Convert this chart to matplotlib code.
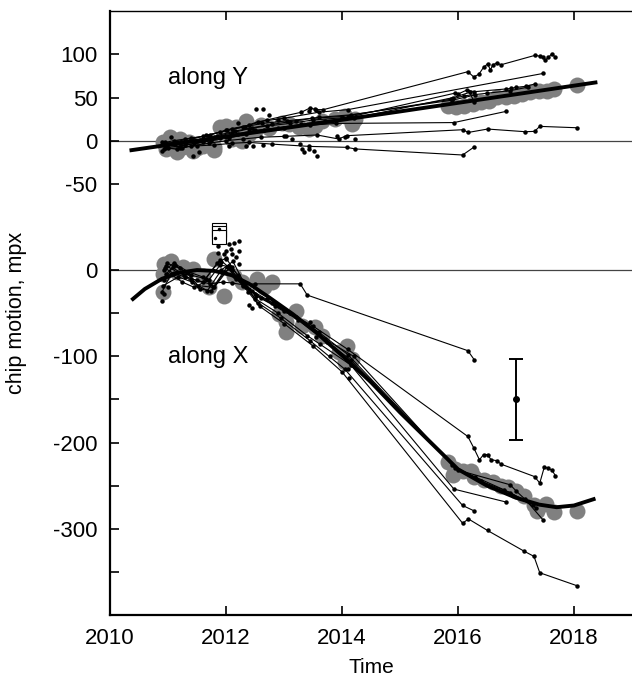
import numpy as np
import matplotlib
matplotlib.use("Agg")
import matplotlib.pyplot as plt

plt.rcParams['font.family'] = ['Liberation Sans', 'DejaVu Sans']

# upper panel (along Y) is drawn shifted up by this many mpx
Y_SHIFT = 150

# ---------------- along Y ----------------
y_fit_t = [2010.37, 2014.97, 2018.37]
y_fit_v = [-11, 33.6, 67.5]

y_grey_t = [2010.91, 2011.03, 2011.2, 2011.26, 2011.43, 2011.6, 2011.8, 2010.97, 2011.11, 2011.37,
            2011.89, 2012.0, 2012.17, 2012.34, 2012.11, 2012.28, 2012.4, 2012.51, 2012.97, 2013.08,
            2013.26, 2013.43, 2013.54, 2013.65, 2013.88, 2014.06, 2014.23, 2014.17, 2011.8,
            2011.15, 2011.5, 2012.6, 2012.75,
            2015.83, 2015.97, 2016.11, 2016.26, 2016.4, 2016.54, 2016.68, 2016.83, 2016.97, 2017.11,
            2017.25, 2017.4, 2017.54, 2017.66, 2018.05]
y_grey_v = [-2, 3.8, 2, -7.7, -11.6, -5.8, -7.7, -9.6, -7.7, -2,
            15.4, 17.4, 15.4, 23, 2, 0, 7.7, 13.5, 21, 19.3,
            15.4, 13.5, 17.4, 23, 25, 29, 25, 19.3, -10.4,
            -13, -9, 18, 15,
            40.5, 38.6, 40.5, 42.5, 44.4, 46.3, 50.2, 50.2, 52.1, 54.1,
            56, 58, 58, 60, 65]

y_tracks_t = [
    [2010.95, 2011.1, 2011.3, 2011.6, 2011.9, 2012.1, 2012.4, 2012.7, 2013.3, 2013.45, 2013.55, 2013.68,
     2016.17, 2016.27, 2016.36, 2016.44, 2016.51, 2016.56, 2016.6, 2016.67, 2016.74,
     2017.33, 2017.41, 2017.46, 2017.5, 2017.56, 2017.62, 2017.68],
    [2010.95, 2011.15, 2011.4, 2011.7, 2012.0, 2012.3, 2012.55, 2013.0, 2013.6, 2014.1, 2017.47],
    [2010.98, 2011.2, 2011.5, 2011.8, 2012.1, 2012.4, 2012.7, 2013.1, 2013.5, 2014.1,
     2015.94, 2016.0, 2016.15, 2016.28, 2016.83, 2016.91, 2017.0, 2017.17, 2017.32],
    [2011.0, 2011.3, 2011.6, 2011.9, 2012.2, 2012.5, 2012.9, 2013.3, 2013.7, 2014.2, 2015.92, 2016.2, 2016.28],
    [2010.92, 2011.25, 2011.55, 2011.85, 2012.15, 2012.45, 2012.8, 2013.2, 2013.6, 2014.15, 2015.9, 2016.3],
    [2010.9, 2011.12, 2011.42, 2011.72, 2012.02, 2012.32, 2012.62, 2013.05, 2013.48, 2014.0,
     2015.88, 2016.1, 2016.5, 2016.9, 2017.2],
    [2010.97, 2011.2, 2011.45, 2011.75, 2012.05, 2012.35, 2012.65, 2013.0, 2013.45, 2013.9, 2015.93, 2016.83],
    [2010.95, 2011.15, 2011.4, 2011.7, 2012.0, 2012.3, 2012.6, 2013.0, 2013.57, 2013.94, 2014.08,
     2016.08, 2016.18, 2016.51, 2017.16, 2017.32, 2017.41, 2018.05],
    [2010.93, 2011.2, 2011.5, 2011.8, 2012.1, 2012.4, 2012.8, 2013.43, 2014.08, 2014.23, 2016.08, 2016.27],
]
y_tracks_v = [
    [-2, 0, 2, 5, 10, 14, 18, 24, 33, 38, 36, 36,
     80, 74, 77, 85, 89, 82, 88, 90, 88,
     99, 98, 97, 93, 96.5, 101, 96.5],
    [-4, -1, 3, 6, 12, 16, 22, 26, 33, 36, 78],
    [-6, -3, 0, 4, 9, 14, 17, 20, 24, 27, 55, 54, 58.7, 56.8, 60, 60.6, 61.8, 63, 65.7],
    [-8, -5, -2, 3, 8, 12, 15, 19, 23, 26, 50, 56, 45],
    [-3, -2, 1, 6, 11, 15, 19, 23, 27, 30, 47, 53],
    [-1, -4, 2, 7, 12, 16, 20, 23, 26, 28, 48, 52, 55, 58, 62],
    [-5, -7, -3, 0, 3, 8, 12, 15, 18, 20, 21, 34],
    [-8, -10, -6, -3, 0, 2, 4, 5, 6.6, 2, 5.8, 12.7, 9.6, 13.5, 10.4, 10.8, 16.6, 15],
    [-10, -8, -6, -5, -3, -2, -4, -6.6, -7.7, -9.6, -16.6, -7.7],
]

y_dots_t = [2013.28, 2013.31, 2013.34, 2013.43, 2013.51, 2013.57, 2013.03, 2013.14, 2012.51, 2012.63,
            2013.43, 2013.54, 2012.34, 2012.46, 2012.63, 2012.06, 2011.43, 2011.54, 2010.89, 2013.91,
            2014.06, 2014.23, 2011.05, 2011.25, 2011.65, 2012.2, 2012.75, 2012.9]
y_dots_v = [-3.9, -9.6, -13.5, -9.6, -11.6, -17.4, 5.8, 2, 36.7, 36.7,
            34.8, 36.7, -5.8, -5.8, -5, -5.8, -17.4, -13.5, -11.6, 5.8,
            3.8, 2, 4, -9, 7, 20, 30, 24]

# ---------------- along X ----------------
x_fit_t = [2010.37, 2010.6, 2010.9, 2011.2, 2011.5, 2011.8, 2012.1, 2012.4, 2012.75, 2013.15, 2013.55,
           2014.0, 2014.5, 2015.0, 2015.5, 2016.0, 2016.5, 2017.0, 2017.4, 2017.7, 2018.0, 2018.37]
x_fit_v = [-35, -22, -10, -3, 0, -1, -6, -16, -32, -51, -72,
           -99, -130, -165, -198, -231, -250, -264, -272, -275, -273, -265]

x_grey_t = [2010.94, 2011.06, 2010.91, 2010.91, 2011.26, 2011.43, 2011.6, 2011.8, 2011.97, 2012.14,
            2012.28, 2012.54, 2012.65, 2012.8, 2012.91, 2013.2, 2013.03, 2013.03, 2013.31, 2013.54,
            2013.65, 2013.94, 2014.08, 2014.17, 2014.05, 2011.15, 2011.7,
            2015.83, 2015.94, 2015.91, 2016.08, 2016.23, 2016.28, 2016.45, 2016.6, 2016.74, 2016.86,
            2017.0, 2017.14, 2017.31, 2017.37, 2017.51, 2017.65, 2018.05]
x_grey_v = [7, 10.8, -4.6, -26, 3, 1, -6.6, 12.7, -30, -6.6,
            -14, -10.4, -20, -14.4, -51, -47, -60.7, -72, -64.5, -66.5,
            -76, -95.5, -87.7, -103, -107, -2, -20,
            -223, -230.6, -238, -232.6, -232.6, -240, -244, -246, -250, -252,
            -256, -261.5, -273, -279, -271, -281, -279]

x_tracks_t = [
    [2010.95, 2011.1, 2011.3, 2011.5, 2011.72, 2011.95, 2012.1, 2012.3, 2012.5, 2013.28, 2013.4, 2016.17, 2016.28],
    [2010.97, 2011.15, 2011.4, 2011.6, 2011.85, 2012.0, 2012.2, 2012.4, 2012.6, 2013.0, 2013.5, 2014.1,
     2016.17, 2016.27, 2016.37, 2016.44, 2016.51, 2016.57, 2016.67, 2016.74,
     2017.32, 2017.41, 2017.49, 2017.55, 2017.62, 2017.68],
    [2010.9, 2011.05, 2011.25, 2011.45, 2011.7, 2011.9, 2012.1, 2012.3, 2012.5, 2012.9, 2013.4, 2014.15,
     2015.93, 2016.83],
    [2010.93, 2011.08, 2011.28, 2011.55, 2011.75, 2011.98, 2012.15, 2012.35, 2012.55, 2012.95, 2013.45,
     2014.05, 2016.08, 2016.27],
    [2010.96, 2011.12, 2011.32, 2011.52, 2011.78, 2012.02, 2012.18, 2012.38, 2012.58, 2013.0, 2013.5,
     2014.0, 2016.08, 2016.18, 2016.51, 2017.14, 2017.31, 2017.41, 2018.05],
    [2010.94, 2011.1, 2011.35, 2011.6, 2011.8, 2012.05, 2012.25, 2012.45, 2012.7, 2013.1, 2013.6,
     2014.1, 2016.0, 2016.9, 2017.0, 2017.16, 2017.47],
    [2010.98, 2011.2, 2011.4, 2011.65, 2011.9, 2012.1, 2012.3, 2012.5, 2012.8, 2013.2, 2013.7,
     2014.2, 2015.95, 2016.3, 2016.8, 2017.3],
    [2010.92, 2011.18, 2011.42, 2011.68, 2011.92, 2012.12, 2012.32, 2012.52, 2012.85, 2013.25, 2013.75,
     2014.15, 2015.9, 2016.4, 2016.9, 2017.35],
]
x_tracks_v = [
    [2, -4, -8, -12, -16, -14, -15, -17, -16, -16, -29, -93.5, -104],
    [5, -2, -10, -14, 8, 14, -6, -22, -32, -47, -65, -92,
     -193, -206, -220, -214, -214, -220, -221, -225,
     -239.5, -247, -228, -230, -232, -238.5],
    [-25, -5, -14, -20, -12, 6, 3, -14, -33, -50, -76, -110, -254, -269],
    [-12, 3, -6, -22, -24, -2, -8, -20, -38, -56, -82, -115, -273, -279],
    [-5, 6, -3, -18, -20, 4, -10, -25, -42, -62, -88, -118, -293.6, -288.6, -302, -326, -332, -351, -366],
    [0, 8, -2, -8, -20, 2, -12, -24, -34, -50, -72, -98, -232, -249, -256, -266, -290],
    [8, 2, -6, -10, 12, 0, -18, -28, -38, -55, -80, -100, -230, -240, -255, -272],
    [-18, -8, -14, -24, 0, 10, -16, -30, -42, -58, -84, -104, -226, -245, -258, -276],
]

x_dots_t = [2012.06, 2012.13, 2012.22, 2012.0, 2012.08, 2012.17, 2012.0, 2011.86, 2012.06, 2012.23,
            2012.11, 2011.97, 2012.22, 2011.91, 2011.86, 2010.89, 2010.93, 2011.0, 2012.4, 2012.45,
            2013.45, 2013.55, 2013.62, 2013.8, 2014.1, 2014.12]
x_dots_v = [30, 31, 34, 22, 24, 14.6, 12.7, 20, 5, 7,
            18.5, 18.5, 22, 8.8, 28, -35.6, -28, -20, -40, -44,
            -60, -78, -86, -100, -115, -125]

# small stacked box symbol and error bar
box_t = [2011.885, 2011.885, 2011.885]
box_v = [47.0, 43.2, 38.2]
box_dot_t = [2011.885, 2011.81]
box_dot_v = [47.5, 36.6]
err_t, err_v, err_e = 2017.0, -150, 47

fig = plt.figure(figsize=(6.32, 6.78), dpi=100)
ax = fig.add_axes([0.174, 0.0929, 0.826, 0.8904])

ax.axhline(Y_SHIFT, color='#444444', lw=0.9, zorder=1)
ax.axhline(0, color='#444444', lw=0.9, zorder=1)

grey = '#808080'
ax.plot(y_grey_t, np.array(y_grey_v) + Y_SHIFT, 'o', color=grey, ms=11.5, mew=0, zorder=2)
ax.plot(x_grey_t, x_grey_v, 'o', color=grey, ms=11.5, mew=0, zorder=2)

for t, v in zip(y_tracks_t, y_tracks_v):
    ax.plot(t, np.array(v) + Y_SHIFT, '-o', color='black', lw=0.8, ms=2.2, zorder=3)
for t, v in zip(x_tracks_t, x_tracks_v):
    ax.plot(t, v, '-o', color='black', lw=0.8, ms=2.2, zorder=3)
ax.plot(y_dots_t, np.array(y_dots_v) + Y_SHIFT, 'o', color='black', ms=2.2, zorder=3)
ax.plot(x_dots_t, x_dots_v, 'o', color='black', ms=2.2, zorder=3)

ax.plot(y_fit_t, np.array(y_fit_v) + Y_SHIFT, '-', color='black', lw=2.8, zorder=4)
ax.plot(x_fit_t, x_fit_v, '-', color='black', lw=2.8, zorder=4, solid_capstyle='butt')

ax.plot(box_t, box_v, 's', ms=10, mfc='white', mec='black', mew=0.8, zorder=5)
ax.plot(box_dot_t, box_dot_v, 'o', color='black', ms=1.5, zorder=6)
ax.errorbar(err_t, err_v, yerr=err_e, fmt='o', color='black', ms=4, lw=1.4,
            capsize=5, capthick=1.4, zorder=5)

ax.text(2011.0, 223, 'along Y', fontsize=17, ha='left', va='center')
ax.text(2011.0, -101, 'along X', fontsize=17, ha='left', va='center')

ax.set_xlim(2010, 2019)
ax.set_ylim(-400, 300)
ax.set_xticks([2010, 2012, 2014, 2016, 2018])
ax.set_yticks([250, 200, 150, 100, 0, -50, -100, -150, -200, -250, -300, -350])
ax.set_yticklabels(['100', '50', '0', '-50', '0', '', '-100', '', '-200', '', '-300', ''])

ax.spines['right'].set_visible(False)
ax.spines['left'].set_linewidth(1.6)
ax.spines['bottom'].set_linewidth(1.6)
ax.spines['top'].set_linewidth(1.0)
ax.tick_params(direction='in', length=6.5, width=1.2, top=True, right=False, labelsize=16)
ax.tick_params(axis='y', pad=9)
ax.tick_params(axis='x', pad=9)

ax.set_xlabel('Time', fontsize=15)
ax.set_ylabel('chip motion, mpx', fontsize=15.5)
ax.xaxis.set_label_coords(0.5, -0.072)
ax.yaxis.set_label_coords(-0.158, 0.5)

fig.savefig('out.png', dpi=100)
